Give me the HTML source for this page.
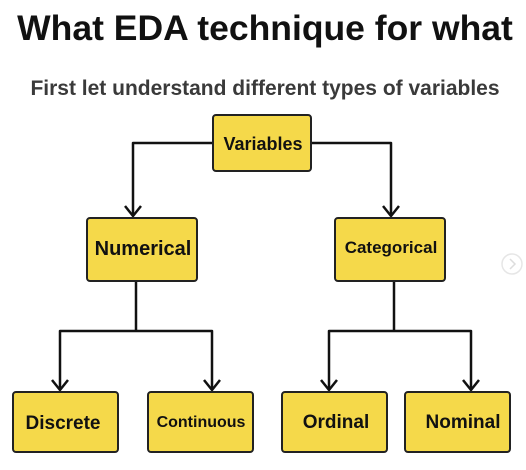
<!DOCTYPE html>
<html><head><style>
body{margin:0;width:526px;height:465px;background:#fff;overflow:hidden;font-family:"Liberation Sans",sans-serif;}
</style></head><body>
<svg width="526" height="465" xmlns="http://www.w3.org/2000/svg" font-family="Liberation Sans, sans-serif" font-weight="bold">
<text x="265" y="40" text-anchor="middle" font-size="35.5" fill="#111">What EDA technique for what</text>
<text x="265" y="95" text-anchor="middle" font-size="21" fill="#3a3a3a">First let understand different types of variables</text>
<g fill="none" stroke="#111" stroke-width="2.5" stroke-linejoin="round">
<polyline points="213,143 133,143 133,216"/>
<polyline points="311,143 391,143 391,216"/>
<polyline points="125,206 133,216 141,206"/>
<polyline points="383,206 391,216 399,206"/>
<polyline points="136,281 136,331"/>
<polyline points="60,390 60,331 212,331 212,390"/>
<polyline points="394,281 394,331"/>
<polyline points="329,390 329,331 471,331 471,390"/>
<polyline points="52,380 60,390 68,380"/>
<polyline points="204,380 212,390 220,380"/>
<polyline points="321,380 329,390 337,380"/>
<polyline points="463,380 471,390 479,380"/>
</g>
<g fill="#f5d94a" stroke="#222" stroke-width="2">
<rect x="213" y="115" width="98" height="56" rx="3"/>
<rect x="87" y="218" width="110" height="63" rx="3"/>
<rect x="335" y="218" width="110" height="63" rx="3"/>
<rect x="13" y="392" width="105" height="60" rx="3"/>
<rect x="148" y="392" width="105" height="60" rx="3"/>
<rect x="282" y="392" width="105" height="60" rx="3"/>
<rect x="405" y="392" width="105" height="60" rx="3"/>
</g>
<g fill="#111" text-anchor="middle">
<text x="263" y="150" font-size="18">Variables</text>
<text x="143" y="255" font-size="20">Numerical</text>
<text x="391" y="253" font-size="17">Categorical</text>
<text x="63" y="429" font-size="19">Discrete</text>
<text x="201" y="427" font-size="16">Continuous</text>
<text x="336" y="428" font-size="19">Ordinal</text>
<text x="463" y="428" font-size="19">Nominal</text>
</g>
<circle cx="512" cy="264" r="10" fill="none" stroke="#e6e6e6" stroke-width="1.5"/>
<polyline points="510,259 515,264 510,269" fill="none" stroke="#ddd" stroke-width="1.5"/>
</svg>
</body></html>
